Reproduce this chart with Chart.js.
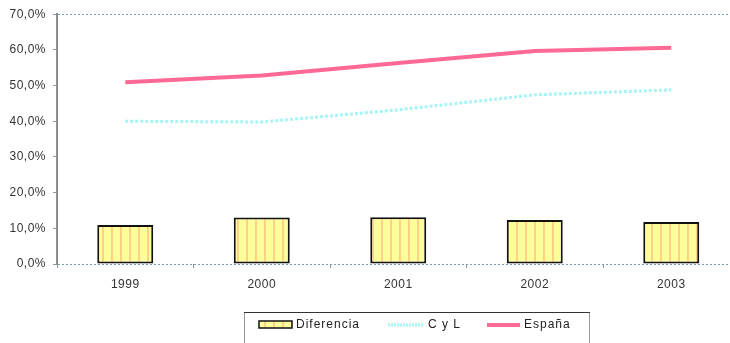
<!DOCTYPE html>
<html>
<head>
<meta charset="utf-8">
<script src="https://cdn.jsdelivr.net/npm/chart.js@4/dist/chart.umd.min.js"></script>
<style>
  html, body { margin: 0; padding: 0; background: #fff; overflow: hidden; }
  #wrap { position: relative; width: 742px; height: 343px; }
</style>
</head>
<body>
<div id="wrap"><canvas id="c"></canvas></div>
<script>
// Years on the category axis
const years = ['1999', '2000', '2001', '2002', '2003'];
// Percentages per year
const diferencia = [10.9, 13.0, 13.1, 12.3, 11.8];
const cyl = [40.0, 39.8, 43.2, 47.4, 48.8];
const espana = [50.9, 52.8, 56.3, 59.7, 60.6];
// Series names
const seriesNames = ['Diferencia', 'C y L', 'España'];
const yTicks = [0, 10, 20, 30, 40, 50, 60, 70];

const FONT = '"Liberation Sans", Arial, sans-serif';

// Yellow fill with thin vertical orange stripes for the bars
function stripePattern() {
  const p = document.createElement('canvas');
  p.width = 9; p.height = 4;
  const g = p.getContext('2d');
  g.fillStyle = '#ffff99';
  g.fillRect(0, 0, 9, 4);
  g.fillStyle = '#ffd08a';
  g.fillRect(3, 0, 2, 4);
  g.fillStyle = '#f6ff9a';
  g.fillRect(7, 0, 1, 4);
  const ctx = document.getElementById('c').getContext('2d');
  return ctx.createPattern(p, 'repeat');
}
const barFill = stripePattern();

const fmt = v => v.toFixed(1).replace('.', ',') + '%';

// Slightly spaced lettering for all chart text
const spacing = {
  id: 'spacing',
  beforeInit(chart) { chart.ctx.letterSpacing = '0.5px'; },
  beforeDraw(chart) { chart.ctx.letterSpacing = '0.5px'; }
};

// Boxed legend drawn under the axis
const boxLegend = {
  id: 'boxLegend',
  afterDraw(chart) {
    const ctx = chart.ctx;
    const ds = chart.data.datasets;
    ctx.save();
    ctx.letterSpacing = '1px';
    ctx.fillStyle = '#fff';
    ctx.fillRect(244, 312, 345, 40);
    ctx.strokeStyle = '#9a9a9a';
    ctx.lineWidth = 1;
    ctx.strokeRect(244.5, 312.5, 345, 40);
    ctx.strokeStyle = '#333';
    ctx.beginPath(); ctx.moveTo(244, 312.5); ctx.lineTo(590, 312.5); ctx.stroke();

    ctx.font = '12px ' + FONT;
    ctx.textBaseline = 'middle';
    const cy = 325;
    // bar swatch
    ctx.fillStyle = barFill;
    ctx.fillRect(259, cy - 4, 33, 7);
    ctx.strokeStyle = '#111';
    ctx.lineWidth = 1.5;
    ctx.strokeRect(259, cy - 4, 33, 7);
    ctx.fillStyle = '#222';
    ctx.fillText(ds[0].label, 296, cy);
    // C y L swatch
    ctx.strokeStyle = ds[1].borderColor;
    ctx.lineWidth = 3;
    ctx.setLineDash([2, 1]);
    ctx.beginPath(); ctx.moveTo(388, cy); ctx.lineTo(424, cy); ctx.stroke();
    ctx.setLineDash([]);
    ctx.fillText(ds[1].label, 428, cy);
    // España swatch
    ctx.strokeStyle = ds[2].borderColor;
    ctx.lineWidth = 4;
    ctx.beginPath(); ctx.moveTo(487, cy); ctx.lineTo(520, cy); ctx.stroke();
    ctx.fillText(ds[2].label, 524, cy);
    ctx.restore();
  }
};

new Chart(document.getElementById('c'), {
  data: {
    labels: years,
    datasets: [
      {
        type: 'bar', label: seriesNames[0], data: diferencia, order: 3,
        backgroundColor: barFill, borderColor: '#111', borderWidth: 2,
        borderSkipped: false, categoryPercentage: 1, barPercentage: 0.41
      },
      {
        type: 'line', label: seriesNames[1], data: cyl, order: 2,
        borderColor: '#a6f4f6', borderWidth: 3, borderDash: [3, 2],
        pointRadius: 0, tension: 0, fill: false
      },
      {
        type: 'line', label: seriesNames[2], data: espana, order: 1,
        borderColor: '#ff6a95', borderWidth: 4,
        pointRadius: 0, tension: 0, fill: false
      }
    ]
  },
  options: {
    responsive: true,
    maintainAspectRatio: false,
    animation: false,
    events: [],
    layout: { padding: { left: 0, right: 2.5, top: 13, bottom: 39 } },
    plugins: { legend: { display: false }, tooltip: { enabled: false } },
    scales: {
      x: {
        offset: true,
        grid: {
          display: true, drawOnChartArea: false, offset: true,
          tickLength: 4, tickColor: '#8a9aa5', lineWidth: 1
        },
        border: { display: false },
        ticks: { color: '#333', font: { family: FONT, size: 12 }, padding: 9 },
        afterFit: s => { s.height = 40; }
      },
      y: {
        min: 0, max: 70,
        afterBuildTicks: s => { s.ticks = yTicks.map(v => ({ value: v })); },
        grid: {
          color: c => (c.tick && (c.tick.value === 70 || c.tick.value === 0)) ? '#7f9cab' : 'rgba(0,0,0,0)',
          tickColor: '#999', tickLength: 4, lineWidth: 1
        },
        border: { display: true, color: '#8c8c8c', width: 2, dash: [2, 2] },
        ticks: {
          color: '#333', font: { family: FONT, size: 12 }, padding: 7,
          callback: v => fmt(v)
        },
        afterFit: s => { s.width = 57; }
      }
    }
  },
  plugins: [spacing, boxLegend]
});
</script>
</body>
</html>
